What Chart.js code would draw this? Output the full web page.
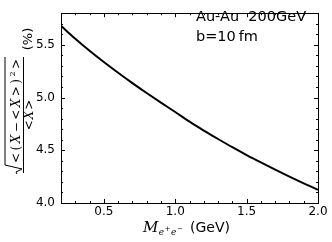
<!DOCTYPE html>
<html>
<head>
<meta charset="utf-8">
<script src="https://cdn.jsdelivr.net/npm/chart.js@4"></script>
<style>
  html, body { margin: 0; padding: 0; background: #fff; }
  canvas { display: block; }
</style>
</head>
<body>
<canvas id="chart" width="332" height="242"></canvas>
<script>
// pair invariant mass (GeV) and relative fluctuation (%)
const massGeV = [0.2, 0.3, 0.4, 0.5, 0.6, 0.7, 0.8, 0.9, 1.0, 1.1, 1.2, 1.3, 1.4, 1.5, 1.6, 1.7, 1.8, 1.9, 2.0];
const relWidth = [5.680, 5.558, 5.444, 5.337, 5.235, 5.137, 5.043, 4.952, 4.863, 4.771,
                  4.687, 4.607, 4.529, 4.455, 4.385, 4.317, 4.251, 4.187, 4.125];

const xTicks = [0.5, 1.0, 1.5, 2.0];
const yTicks = [4.0, 4.5, 5.0, 5.5];
const xMinor = [0.3, 0.4, 0.6, 0.7, 0.8, 0.9, 1.1, 1.2, 1.3, 1.4, 1.6, 1.7, 1.8, 1.9];
const yMinor = [4.1, 4.2, 4.3, 4.4, 4.6, 4.7, 4.8, 4.9, 5.1, 5.2, 5.3, 5.4, 5.6, 5.7];

const systemLines = ['Au-Au  200GeV', 'b=10\u2009fm'];

const SANS = "'DejaVu Sans', sans-serif";
const SERIF = "'DejaVu Serif', serif";

// inward ticks on all four sides + frame, like matplotlib
const framePlugin = {
    id: 'frame',
    afterDatasetsDraw(chart) {
        const { ctx, chartArea: a, scales: { x, y } } = chart;
        ctx.save();
        ctx.strokeStyle = '#000';
        ctx.lineWidth = 1;
        const tickX = (vals, len) => {
            vals.forEach(v => {
                const px = Math.round(x.getPixelForValue(v)) + 0.5;
                ctx.beginPath();
                ctx.moveTo(px, a.bottom); ctx.lineTo(px, a.bottom - len);
                ctx.moveTo(px, a.top); ctx.lineTo(px, a.top + len);
                ctx.stroke();
            });
        };
        const tickY = (vals, len) => {
            vals.forEach(v => {
                const py = Math.round(y.getPixelForValue(v)) + 0.5;
                ctx.beginPath();
                ctx.moveTo(a.left, py); ctx.lineTo(a.left + len, py);
                ctx.moveTo(a.right, py); ctx.lineTo(a.right - len, py);
                ctx.stroke();
            });
        };
        tickX(xTicks, 4); tickX(xMinor, 2);
        tickY(yTicks, 4); tickY(yMinor, 2);
        ctx.strokeRect(Math.round(a.left) + 0.5, Math.round(a.top) + 0.5,
            Math.round(a.right - a.left), Math.round(a.bottom - a.top));
        ctx.restore();
    }
};

const labelsPlugin = {
    id: 'labels',
    afterDraw(chart) {
        const ctx = chart.ctx;
        ctx.save();
        ctx.fillStyle = '#000';
        ctx.strokeStyle = '#000';
        ctx.textBaseline = 'alphabetic';

        // annotation
        ctx.font = '14.5px ' + SANS;
        ctx.fillText(systemLines[0], 196, 21);
        ctx.fillText(systemLines[1], 196, 41);

        // x title: M_{e+e-} (GeV)
        let cx = 143;
        ctx.font = 'italic 15px ' + SERIF;
        ctx.fillText('M', cx, 232);
        cx += ctx.measureText('M').width + 0.5;
        const sub = [['e', 0], ['+', -4], ['e', 0], ['\u2212', -4]];
        sub.forEach(([t, dy]) => {
            ctx.font = (t === 'e' ? 'italic 9px ' : '7px ') + SERIF;
            ctx.fillText(t, cx, 235 + dy);
            cx += ctx.measureText(t).width + 0.5;
        });
        ctx.font = '14px ' + SANS;
        ctx.fillText('(GeV)', 190, 232);

        // y title: sqrt(<(X-<X>)^2>)/<X> (%)
        ctx.translate(30, 115);
        ctx.rotate(-Math.PI / 2);
        const R = '12px ' + SERIF, I = 'italic 12px ' + SERIF;
        const num = [['<', R, 0], ['(', R, 0], ['X', I, 0], ['\u2212', R, 0], ['<', R, 0],
                     ['X', I, 0], ['>', R, 0], [')', R, 0], ['2', '8px ' + SERIF, -5], ['>', R, 0]];
        let w = 0;
        num.forEach(([t, f]) => { ctx.font = f; w += ctx.measureText(t).width; });
        const gap = Math.max(0, (104 - w) / (num.length - 1));
        let u = -48;
        num.forEach(([t, f, dy]) => {
            ctx.font = f;
            ctx.fillText(t, u, -10.5 + dy);
            u += ctx.measureText(t).width + gap;
        });
        ctx.lineWidth = 1;
        // radical sign and overline
        ctx.beginPath();
        ctx.moveTo(-59, -13);
        ctx.lineTo(-57, -14);
        ctx.lineTo(-54, -8);
        ctx.lineTo(-50, -25);
        ctx.lineTo(58, -25);
        ctx.stroke();
        // fraction bar
        ctx.beginPath();
        ctx.moveTo(-58, -6.5);
        ctx.lineTo(58, -6.5);
        ctx.stroke();
        ctx.textAlign = 'center';
        ctx.font = R;
        const lw = ctx.measureText('<').width;
        ctx.font = I;
        const xw = ctx.measureText('X').width;
        ctx.font = R;
        ctx.fillText('<', -(xw + lw) / 2 - 1, 3);
        ctx.fillText('>', (xw + lw) / 2 + 1, 3);
        ctx.font = I;
        ctx.fillText('X', 0, 3);
        ctx.font = '13px ' + SANS;
        ctx.fillText('(%)', 76, 1.5);
        ctx.restore();
    }
};

new Chart(document.getElementById('chart'), {
    type: 'line',
    data: {
        datasets: [{
            data: massGeV.map((m, i) => ({ x: m, y: relWidth[i] })),
            borderColor: '#000',
            borderWidth: 2,
            pointRadius: 0,
            cubicInterpolationMode: 'monotone',
            fill: false
        }]
    },
    options: {
        responsive: false,
        animation: false,
        layout: { padding: { top: 4, right: 14, left: 0, bottom: 0 } },
        plugins: { legend: { display: false }, tooltip: { enabled: false } },
        scales: {
            x: {
                type: 'linear', min: 0.2, max: 2.0,
                grid: { display: false, drawTicks: false },
                border: { display: false },
                afterBuildTicks: s => { s.ticks = xTicks.map(v => ({ value: v })); },
                afterFit: s => { s.height = 39; },
                ticks: {
                    color: '#000', padding: 2, maxRotation: 0, autoSkip: false,
                    font: { family: SANS, size: 12 },
                    callback: v => v.toFixed(1)
                }
            },
            y: {
                type: 'linear', min: 4.0, max: 5.8,
                grid: { display: false, drawTicks: false },
                border: { display: false },
                afterBuildTicks: s => { s.ticks = yTicks.map(v => ({ value: v })); },
                afterFit: s => { s.width = 61; },
                ticks: {
                    color: '#000', padding: 6,
                    font: { family: SANS, size: 12 },
                    callback: v => v.toFixed(1)
                }
            }
        }
    },
    plugins: [framePlugin, labelsPlugin]
});
</script>
</body>
</html>
